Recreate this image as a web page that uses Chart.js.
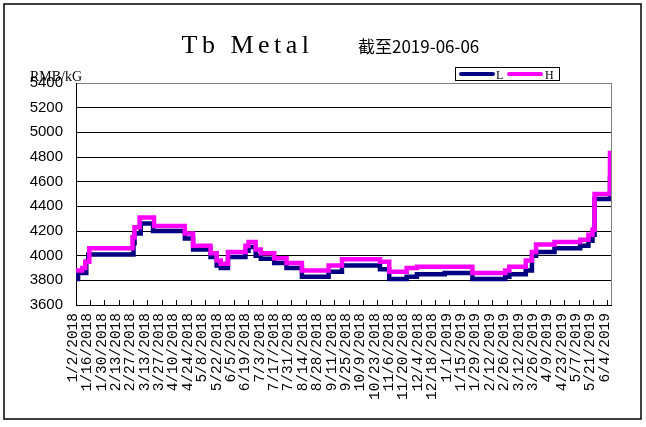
<!DOCTYPE html>
<html lang="zh">
<head>
<meta charset="utf-8">
<script src="https://cdn.jsdelivr.net/npm/chart.js@4.4.1/dist/chart.umd.min.js"></script>
<style>
html,body{margin:0;padding:0;background:#fff;}
#wrap{width:646px;height:427px;position:relative;}
canvas{display:block;}
</style>
</head>
<body>
<div id="wrap"><canvas id="c" width="646" height="427" style="width:646px;height:427px"></canvas></div>
<script>
// ---- text ----
const chartTitle = 'Tb Metal';
const chartSubtitle = '截至2019-06-06';
const unitLabel = 'RMB/kG';
const seriesNames = ['L', 'H'];

// ---- axis ----
const startDate = '2018-01-02';
const axisDays = 521;
const tickStepDays = 14;
const yMin = 3600, yMax = 5400, yStep = 200;
const tickLabels = ['1/2/2018','1/16/2018','1/30/2018','2/13/2018','2/27/2018','3/13/2018','3/27/2018',
  '4/10/2018','4/24/2018','5/8/2018','5/22/2018','6/5/2018','6/19/2018','7/3/2018','7/17/2018',
  '7/31/2018','8/14/2018','8/28/2018','9/11/2018','9/25/2018','10/9/2018','10/23/2018','11/6/2018',
  '11/20/2018','12/4/2018','12/18/2018','1/1/2019','1/15/2019','1/29/2019','2/12/2019','2/26/2019',
  '3/12/2019','3/26/2019','4/9/2019','4/23/2019','5/7/2019','5/21/2019','6/4/2019'];

// ---- series L (low) : price change dates and values ----
const lowDates = ['2018-01-02','2018-01-04','2018-01-12','2018-01-14','2018-02-27','2018-02-28','2018-03-06',
  '2018-03-18','2018-04-18','2018-04-26','2018-05-13','2018-05-19','2018-05-23','2018-05-30','2018-06-16',
  '2018-06-19','2018-06-26','2018-07-01','2018-07-14','2018-07-26','2018-08-10','2018-09-05','2018-09-18',
  '2018-10-25','2018-11-03','2018-11-20','2018-11-30','2018-12-27','2019-01-23','2019-02-24','2019-02-28',
  '2019-03-16','2019-03-22','2019-03-26','2019-04-13','2019-05-08','2019-05-16','2019-05-20','2019-05-22',
  '2019-06-06'];
const lowValues = [3810,3860,3950,4010,4100,4180,4260,
  4200,4140,4050,3990,3920,3900,3990,4040,
  4070,4000,3975,3940,3900,3830,3870,3920,
  3890,3810,3830,3850,3860,3810,3830,3850,
  3880,4000,4030,4060,4080,4120,4170,4460,
  4650];

// ---- series H (high) : price change dates and values ----
const highDates = ['2018-01-02','2018-01-08','2018-01-11','2018-01-15','2018-02-26','2018-02-28','2018-03-05',
  '2018-03-19','2018-04-18','2018-04-26','2018-05-13','2018-05-19','2018-05-23','2018-05-30','2018-06-16',
  '2018-06-19','2018-06-26','2018-07-01','2018-07-14','2018-07-26','2018-08-10','2018-09-05','2018-09-18',
  '2018-10-25','2018-11-03','2018-11-20','2018-11-30','2019-01-23','2019-02-24','2019-02-28','2019-03-16',
  '2019-03-22','2019-03-26','2019-04-13','2019-05-08','2019-05-16','2019-05-20','2019-05-22','2019-06-06'];
const highValues = [3880,3900,3950,4060,4150,4230,4310,
  4240,4180,4080,4020,3960,3935,4030,4080,
  4110,4050,4020,3980,3940,3880,3920,3970,
  3950,3870,3900,3910,3860,3880,3910,3960,
  4030,4090,4110,4130,4170,4210,4500,4850];

const seriesColors = ['#000080', '#FF00FF'];

function dayIndex(s) {
  const [y, m, d] = s.split('-').map(Number);
  const [y0, m0, d0] = startDate.split('-').map(Number);
  return Math.round((Date.UTC(y, m - 1, d) - Date.UTC(y0, m0 - 1, d0)) / 86400000);
}
function toPoints(dates, values) {
  return dates.map((d, i) => ({ x: dayIndex(d), y: values[i] }));
}
function isStepTick(v) {
  return Math.abs(v / tickStepDays - Math.round(v / tickStepDays)) < 1e-6;
}

const decor = {
  id: 'decor',
  beforeDatasetsDraw(chart) {
    const { ctx, chartArea: a } = chart;
    ctx.save();
    ctx.strokeStyle = '#808080';
    ctx.lineWidth = 1;
    ctx.beginPath();
    ctx.moveTo(Math.round(a.right) + 0.5, a.top);
    ctx.lineTo(Math.round(a.right) + 0.5, a.bottom);
    ctx.stroke();
    ctx.restore();
  },
  afterDraw(chart) {
    const { ctx } = chart;
    ctx.save();
    // outer frame
    ctx.strokeStyle = '#000';
    ctx.lineWidth = 1.5;
    ctx.strokeRect(4, 4, 637, 415);
    // title
    ctx.fillStyle = '#000';
    ctx.textBaseline = 'alphabetic';
    ctx.textAlign = 'left';
    ctx.font = '26px "Liberation Serif"';
    ctx.letterSpacing = '4.5px';
    ctx.fillText(chartTitle, 181.5, 52.5);
    ctx.letterSpacing = '0px';
    ctx.font = '17px "Noto Sans CJK SC"';
    ctx.fillText(chartSubtitle, 358, 52.5);
    // unit
    ctx.font = '14px "Liberation Serif"';
    ctx.fillText(unitLabel, 30, 81);
    // legend
    ctx.fillStyle = '#fff';
    ctx.fillRect(455.5, 67.5, 104, 13);
    ctx.strokeStyle = '#000';
    ctx.lineWidth = 1;
    ctx.strokeRect(455.5, 67.5, 104, 13);
    const items = [[460, 494, 496], [508, 542, 545]];
    chart.data.datasets.forEach((ds, i) => {
      const [x1, x2, tx] = items[i];
      ctx.strokeStyle = ds.borderColor;
      ctx.lineWidth = 4;
      ctx.lineCap = 'round';
      ctx.beginPath();
      ctx.moveTo(x1 + 1, 74);
      ctx.lineTo(x2 - 1, 74);
      ctx.stroke();
      ctx.fillStyle = '#000';
      ctx.font = '12px "Liberation Serif"';
      ctx.fillText(ds.label, tx, 78.5);
    });
    ctx.restore();
  }
};

new Chart(document.getElementById('c'), {
  type: 'line',
  data: {
    datasets: [
      { label: seriesNames[0], data: toPoints(lowDates, lowValues), borderColor: seriesColors[0],
        backgroundColor: seriesColors[0], borderWidth: 4.5, pointRadius: 0, stepped: true, order: 1, fill: false },
      { label: seriesNames[1], data: toPoints(highDates, highValues), borderColor: seriesColors[1],
        backgroundColor: seriesColors[1], borderWidth: 4.5, pointRadius: 0, stepped: true, order: 0, fill: false }
    ]
  },
  options: {
    responsive: false,
    animation: false,
    devicePixelRatio: 1,
    layout: { padding: { left: 0, top: 83, right: 35, bottom: 0 } },
    plugins: { legend: { display: false }, title: { display: false }, tooltip: { enabled: false } },
    scales: {
      x: {
        type: 'linear',
        min: 0,
        max: axisDays,
        bounds: 'data',
        ticks: {
          stepSize: tickStepDays,
          includeBounds: false,
          autoSkip: false,
          minRotation: 90,
          maxRotation: 90,
          padding: 13,
          labelOffset: -3,
          color: '#000',
          font: { family: '"Liberation Mono"', size: 14.5 },
          callback: (v) => (isStepTick(v) ? (tickLabels[Math.round(v / tickStepDays)] ?? '') : '')
        },
        grid: {
          drawOnChartArea: false, drawTicks: true, tickLength: -5, lineWidth: 1,
          color: (c) => (c.tick && isStepTick(c.tick.value) ? '#000' : 'rgba(0,0,0,0)')
        },
        border: { color: '#000', width: 1 },
        afterFit: (s) => { s.height = 122; }
      },
      y: {
        min: yMin,
        max: yMax,
        ticks: {
          stepSize: yStep,
          padding: 13,
          color: '#000',
          font: { family: '"Liberation Sans"', size: 15 },
          callback: (v) => String(v)
        },
        grid: {
          drawTicks: false,
          color: (c) => (c.tick && c.tick.value === yMax ? '#808080' : '#000'),
          lineWidth: 1
        },
        border: { color: '#000', width: 1 },
        afterFit: (s) => { s.width = 76; }
      }
    }
  },
  plugins: [decor]
});
</script>
</body>
</html>
